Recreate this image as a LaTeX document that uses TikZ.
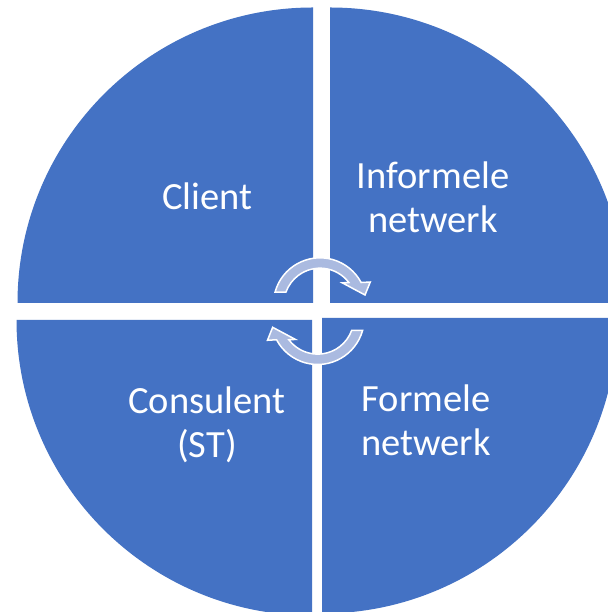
\documentclass[tikz,border=0pt]{standalone}
\usepackage{fontspec}
\setmainfont{Carlito}
\definecolor{quadblue}{HTML}{4472C4}
\definecolor{arrowfill}{RGB}{170,186,224}
\tikzset{
  quad/.style={fill=quadblue, draw=none},
  cyclearrow/.style={fill=arrowfill, draw=white, line width=1.5bp, line join=miter},
  label/.style={text=white, align=center, inner sep=0pt,
    font=\fontsize{38.5bp}{44bp}\selectfont}
}
\begin{document}
\begin{tikzpicture}[x=1bp,y=1bp]
\useasboundingbox (0,0) rectangle (608,612);
\clip (0,0) rectangle (608,612);
\fill[white] (0,0) rectangle (608,612);
% quadrants
\path[quad] (313,309) -- ++(-295.5,0) arc[start angle=180,end angle=90,radius=295.5] -- cycle;
\path[quad] (330,309) -- ++(0,295.5) arc[start angle=90,end angle=0,radius=295.5] -- cycle;
\path[quad] (312,292) -- ++(-295.5,0) arc[start angle=180,end angle=270,radius=295.5] -- cycle;
\path[quad] (322,294) -- ++(295.5,0) arc[start angle=0,end angle=-90,radius=295.5] -- cycle;
% labels (base anchor = baseline of the last line)
\node[label, anchor=base] (client) at (207.5,402) {Client};
\node[label, anchor=base] (informeel) at (433,379) {Informele\\netwerk};
\node[label, anchor=base] (consulent) at (207,154) {Consulent\\(ST)};
\node[label, anchor=base] (formeel) at (426,156) {Formele\\netwerk};
% circular arrows
\begin{scope}[shift={(320,307.6)}]
\filldraw[cyclearrow] (164.6:46.6) arc[start angle=164.6,end angle=28,radius=46.6]
  -- (24:55) -- (11.8:46) -- (44:31) -- (37.2:36.2)
  arc[start angle=37.2,end angle=160,radius=36.2] -- cycle;
\end{scope}
\begin{scope}[shift={(317.7,294.1)},rotate=180]
\filldraw[cyclearrow] (164.6:46.6) arc[start angle=164.6,end angle=28,radius=46.6]
  -- (24:55) -- (11.8:46) -- (44:31) -- (37.2:36.2)
  arc[start angle=37.2,end angle=160,radius=36.2] -- cycle;
\end{scope}
\end{tikzpicture}
\end{document}
